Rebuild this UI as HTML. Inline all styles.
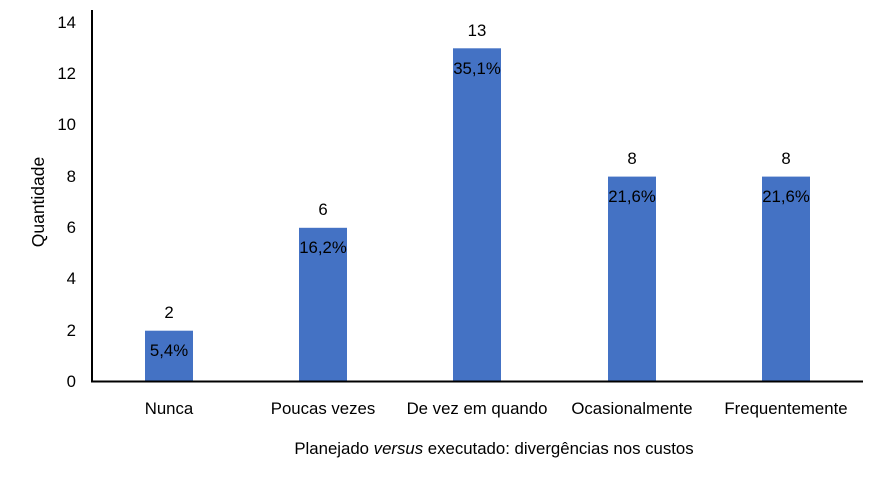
<!DOCTYPE html>
<html><head><meta charset="utf-8"><style>
html,body{margin:0;padding:0;background:#fff;}
</style></head><body>
<svg width="886" height="472" xmlns="http://www.w3.org/2000/svg" font-family="Liberation Sans, sans-serif" font-size="16.8" fill="#000">
<g text-anchor="end">
<text x="76" y="387">0</text>
<text x="76" y="336">2</text>
<text x="76" y="284">4</text>
<text x="76" y="233">6</text>
<text x="76" y="182">8</text>
<text x="76" y="130">10</text>
<text x="76" y="79">12</text>
<text x="76" y="28">14</text>
</g>
<text transform="translate(44,202) rotate(-90)" text-anchor="middle" font-size="17.5">Quantidade</text>
<g fill="#4472C4">
<rect x="145" y="330.7" width="48" height="50.3"/>
<rect x="299" y="227.8" width="48" height="153.2"/>
<rect x="453" y="48.3" width="48" height="332.7"/>
<rect x="608" y="176.6" width="48" height="204.4"/>
<rect x="762" y="176.6" width="48" height="204.4"/>
</g>
<line x1="92" y1="10" x2="92" y2="382" stroke="#000" stroke-width="2"/>
<line x1="91" y1="381.5" x2="863" y2="381.5" stroke="#000" stroke-width="2"/>
<g text-anchor="middle">
<text x="169" y="318">2</text><text x="169" y="356">5,4%</text>
<text x="323" y="215">6</text><text x="323" y="253">16,2%</text>
<text x="477" y="36">13</text><text x="477" y="74">35,1%</text>
<text x="632" y="164">8</text><text x="632" y="202">21,6%</text>
<text x="786" y="164">8</text><text x="786" y="202">21,6%</text>
<text x="169" y="414">Nunca</text>
<text x="323" y="414">Poucas vezes</text>
<text x="477" y="414">De vez em quando</text>
<text x="632" y="414">Ocasionalmente</text>
<text x="786" y="414">Frequentemente</text>
<text x="494" y="454">Planejado <tspan font-style="italic">versus</tspan> executado: divergências nos custos</text>
</g>
</svg>
</body></html>
